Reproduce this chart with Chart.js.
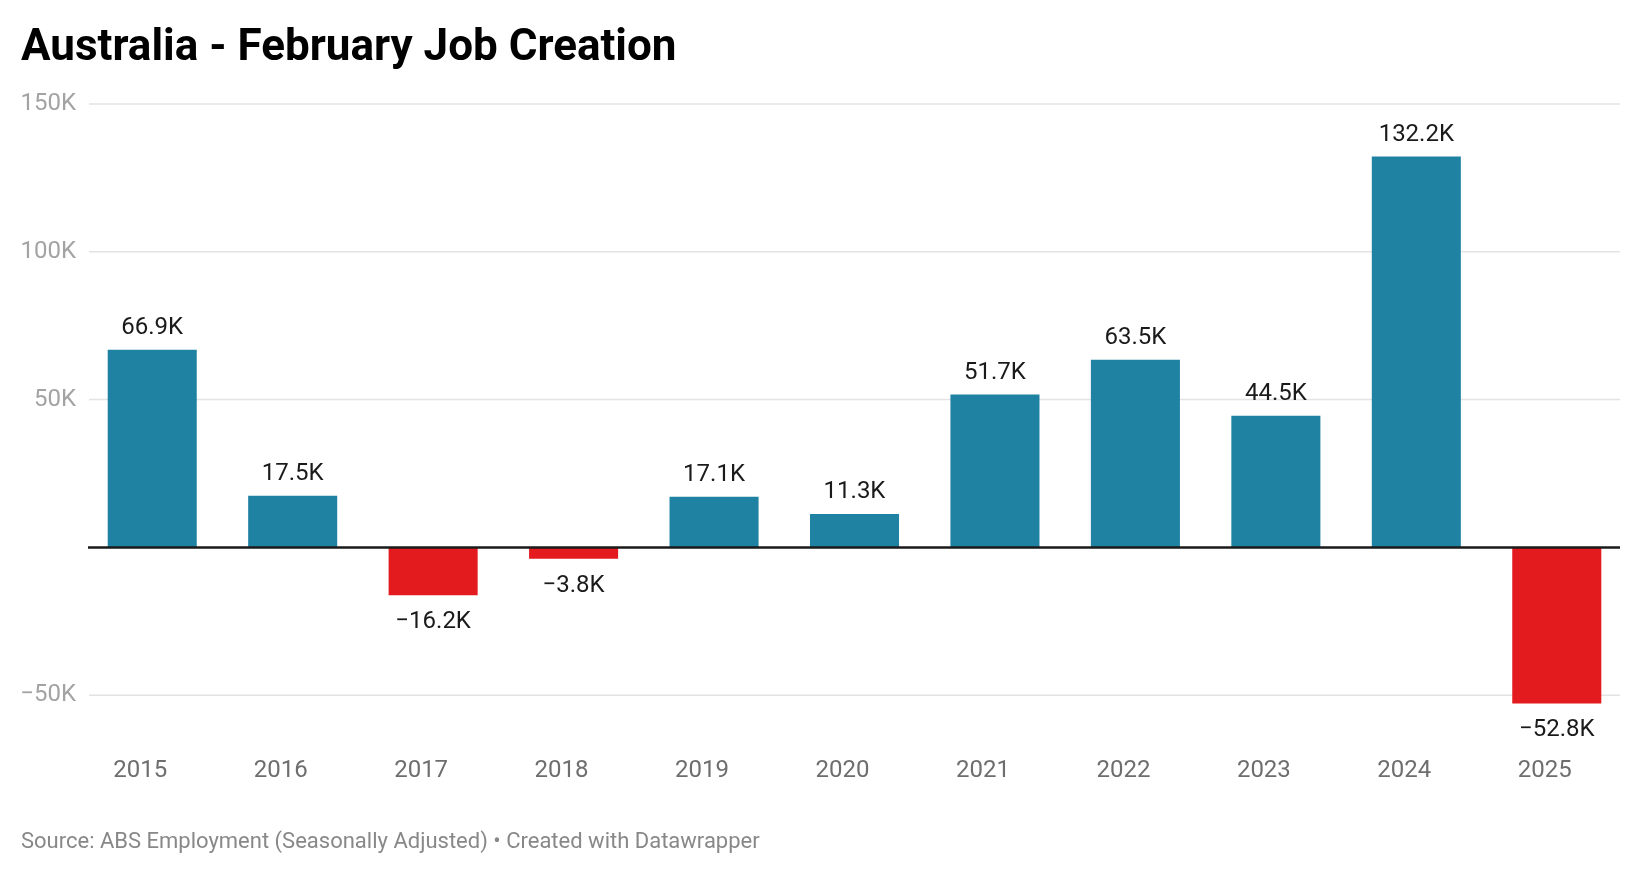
<!DOCTYPE html>
<html>
<head>
<meta charset="utf-8">
<script src="https://cdn.jsdelivr.net/npm/chart.js@4"></script>
<style>
  html, body { margin: 0; padding: 0; background: #fff; }
  body { width: 1640px; height: 874px; position: relative; overflow: hidden; font-family: Roboto, "Noto Sans", sans-serif; }
  #title { position: absolute; left: 21px; top: 19px; font-size: 44px; font-weight: 700; color: #000; white-space: nowrap; }
  #source { position: absolute; left: 21px; top: 828px; font-size: 22px; color: #888; white-space: nowrap; }
  #wrap { position: absolute; left: 0; top: 0; width: 1640px; height: 874px; }
</style>
</head>
<body>
<div id="wrap"><canvas id="jobsChart"></canvas></div>
<div id="title">Australia - February Job Creation</div>
<div id="source">Source: ABS Employment (Seasonally Adjusted) • Created with Datawrapper</div>
<script>
// valores en miles (K)
const years = ['2015', '2016', '2017', '2018', '2019', '2020', '2021', '2022', '2023', '2024', '2025'];
const jobs = [66.9, 17.5, -16.2, -3.8, 17.1, 11.3, 51.7, 63.5, 44.5, 132.2, -52.8];
const yTicks = [-50, 0, 50, 100, 150];

const fmtK = (v) => (v < 0 ? '\u2212' : '') + Math.abs(v) + 'K';

// líneas de la cuadrícula (más cortas que el área de barras)
const gridLines = {
    id: 'gridLines',
    beforeDatasetsDraw(chart) {
        const ctx = chart.ctx;
        const y = chart.scales.y;
        ctx.save();
        yTicks.forEach(v => {
            if (v === 0) return;
            const py = y.getPixelForValue(v);
            ctx.strokeStyle = '#e3e3e3';
            ctx.lineWidth = 1.5;
            ctx.beginPath();
            ctx.moveTo(89, py);
            ctx.lineTo(1620, py);
            ctx.stroke();
        });
        ctx.restore();
    },
    afterDatasetsDraw(chart) {
        const ctx = chart.ctx;
        const py = chart.scales.y.getPixelForValue(0);
        ctx.save();
        ctx.strokeStyle = '#1a1a1a';
        ctx.lineWidth = 2.5;
        ctx.beginPath();
        ctx.moveTo(88, py);
        ctx.lineTo(1620, py);
        ctx.stroke();
        ctx.restore();
    }
};

// etiquetas encima / debajo de cada barra
const barLabels = {
    id: 'barLabels',
    afterDatasetsDraw(chart) {
        const ctx = chart.ctx;
        const meta = chart.getDatasetMeta(0);
        ctx.save();
        ctx.font = '24px Roboto';
        ctx.fillStyle = '#1a1a1a';
        ctx.textAlign = 'center';
        ctx.textBaseline = 'middle';
        meta.data.forEach((bar, i) => {
            const v = jobs[i];
            const y = v >= 0 ? bar.y - 22 : bar.y + 27;
            ctx.fillText((v < 0 ? '\u2212' : '') + Math.abs(v).toFixed(1) + 'K', bar.x, y);
        });
        ctx.restore();
    }
};

new Chart(document.getElementById('jobsChart'), {
    type: 'bar',
    data: {
        labels: years,
        datasets: [{
            data: jobs,
            backgroundColor: jobs.map(v => v < 0 ? '#e31b1e' : '#1f82a2'),
            borderWidth: 0,
            barPercentage: 0.634,
            categoryPercentage: 1
        }]
    },
    options: {
        responsive: true,
        maintainAspectRatio: false,
        animation: false,
        layout: { padding: { top: 104, right: 13, left: 0, bottom: 0 } },
        plugins: { legend: { display: false }, tooltip: { enabled: false } },
        scales: {
            x: {
                grid: { display: false },
                border: { display: false },
                ticks: { color: '#6e6e6e', font: { family: 'Roboto', size: 24 }, padding: 39, labelOffset: -12 },
                afterFit: (scale) => { scale.height = 164; }
            },
            y: {
                min: -55,
                max: 150,
                afterBuildTicks: (scale) => { scale.ticks = yTicks.map(v => ({ value: v })); },
                afterFit: (scale) => { scale.width = 82; },
                border: { display: false },
                grid: { display: false, drawTicks: false },
                ticks: {
                    color: '#a3a3a3',
                    font: { family: 'Roboto', size: 24 },
                    padding: 6,
                    callback: (v) => v === 0 ? '' : fmtK(v)
                }
            }
        }
    },
    plugins: [gridLines, barLabels]
});
</script>
</body>
</html>
